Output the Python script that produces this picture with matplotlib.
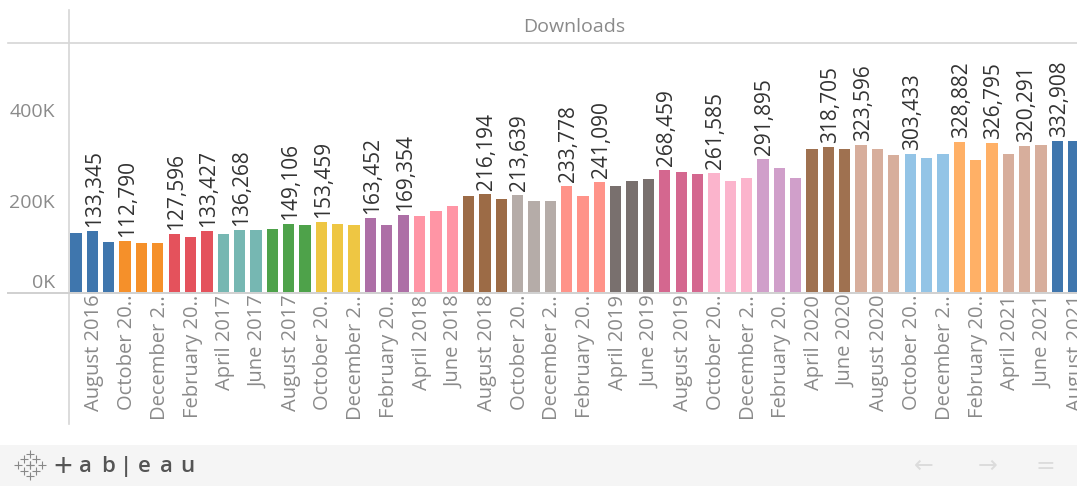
import matplotlib
matplotlib.use("Agg")
import matplotlib.pyplot as plt
from matplotlib.patches import Rectangle
from matplotlib.transforms import ScaledTranslation

plt.rcParams['font.family'] = ['Open Sans', 'DejaVu Sans']

W, H = 1077, 486

values = [129000, 133345, 110000, 112790, 108000, 108000, 127596, 120000, 133427,
          127000, 136268, 136000, 139000, 149106, 147000, 153459, 150000, 148000,
          163452, 147000, 169354, 167000, 179000, 189000, 210000, 216194, 205000,
          213639, 201000, 199000, 233778, 211000, 241090, 232000, 245000, 248000,
          268459, 263000, 259000, 261585, 245000, 251000, 291895, 272000, 250000,
          314000, 318705, 314000, 323596, 314000, 302000, 303433, 294000, 303000,
          328882, 290000, 326795, 303000, 320291, 322000, 332908, 332000]

labelled = [1, 3, 6, 8, 10, 13, 15, 18, 20, 25, 27, 30, 32, 36, 39, 42,
            46, 48, 51, 54, 56, 58, 60]

quarter_colors = ['#3f76ad', '#f5902a', '#e4525c', '#76b7b2', '#4ea24a', '#eec643',
                  '#ad6fa6', '#ff95a5', '#9c6b46', '#b5aca8', '#ff9389', '#79706e',
                  '#d4678f', '#fbb4cc', '#d09fca', '#9f7150', '#d7ae9c', '#93c4e6',
                  '#ffb066', '#d7ae9c', '#3f76ad']

tick_positions = list(range(1, 62, 2))
tick_names = ['August 2016', 'October 20..', 'December 2..', 'February 20..',
              'April 2017', 'June 2017', 'August 2017', 'October 20..', 'December 2..',
              'February 20..', 'April 2018', 'June 2018', 'August 2018', 'October 20..',
              'December 2..', 'February 20..', 'April 2019', 'June 2019', 'August 2019',
              'October 20..', 'December 2..', 'February 20..', 'April 2020', 'June 2020',
              'August 2020', 'October 20..', 'December 2..', 'February 20..', 'April 2021',
              'June 2021', 'August 2021']

y_ticks = [0, 200000, 400000]
y_names = ['0K', '200K', '400K']

fig = plt.figure(figsize=(W / 100, H / 100), dpi=100, facecolor='white')

# chrome layer in pixel coordinates
bg = fig.add_axes([0, 0, 1, 1], zorder=0)
bg.set_xlim(0, W)
bg.set_ylim(H, 0)
bg.axis('off')
bg.add_patch(Rectangle((0, 445), W, 41, color='#f5f5f5', lw=0))
line = '#d6d6d6'
bg.plot([69, 69], [10, 424], color=line, lw=1.2)
bg.plot([8, W], [43, 43], color=line, lw=1.2)
bg.plot([8, W], [293, 293], color='#d0d0d0', lw=1.4)
bg.text(574, 27, 'Downloads', color='#8a8a8a', fontsize=14, ha='center', va='center')

# Tableau footer
px = [18, 30, 42, 30, 24, 36, 24, 36, 30, 30]
py = [465, 465, 465, 454, 459, 459, 471, 471, 476, 465]
bg.scatter(px, py, marker='+', s=30, color='#888888', lw=0.8)
bg.text(63, 468, '+', fontsize=24, color='#555555', ha='center', va='center')
for x, ch in zip([85, 108, 126, 144, 166, 187], 'ab|eau'):
    bg.text(x, 466, ch, fontsize=16, color='#555555', ha='center', va='center', weight='semibold')
for x, ch in zip([924, 988, 1045], ['\u2190', '\u2192', '=']):
    bg.text(x, 466, ch, fontsize=17, color='#dcdcdc', ha='center', va='center',
            family='DejaVu Sans')

# chart layer
x0, x1, y_top, y_base = 69, W, 43, 292
ax = fig.add_axes([x0 / W, 1 - y_base / H, (x1 - x0) / W, (y_base - y_top) / H], zorder=1)
ax.patch.set_alpha(0)
ax.set_xlim(-0.43, 61.2)
ax.set_ylim(0, (y_base - y_top) / 45.5 * 100000)
colors = [quarter_colors[i // 3] for i in range(len(values))]
ax.bar(range(len(values)), values, width=0.69, color=colors, lw=0)

for i in labelled:
    ax.annotate(f'{values[i]:,}', (i, values[i]), xytext=(2, 4), textcoords='offset pixels',
                rotation=90, ha='center', va='bottom', fontsize=15, color='#333333',
                annotation_clip=False)

for s in ax.spines.values():
    s.set_visible(False)
ax.set_xticks(tick_positions)
ax.set_xticklabels(tick_names, rotation=90, ha='center', va='top', fontsize=14.5, color='#8a8a8a')
ax.set_yticks(y_ticks)
ax.set_yticklabels(y_names, fontsize=14, color='#8a8a8a')
ax.tick_params(axis='both', length=0)
ax.tick_params(axis='x', pad=2)
ax.tick_params(axis='y', pad=10)
shift = ScaledTranslation(2 / 100, 0, fig.dpi_scale_trans)
for lab in ax.get_xticklabels():
    lab.set_transform(lab.get_transform() + shift)
ax.get_yticklabels()[0].set_va('bottom')

fig.savefig('out.png', dpi=100)
